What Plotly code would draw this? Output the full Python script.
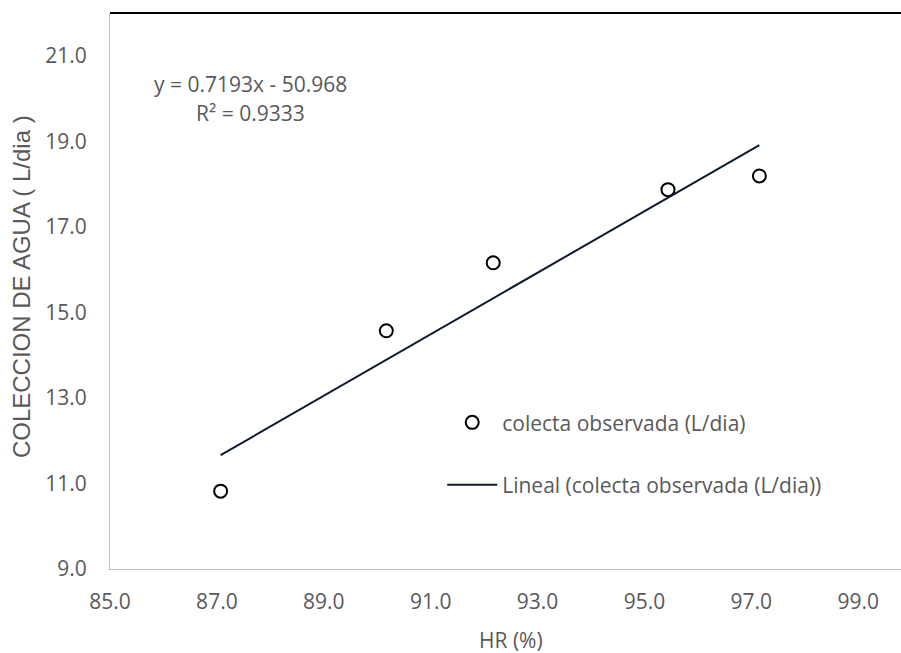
import plotly.graph_objects as go

# Data
hr_percent = [87.07, 90.17, 92.17, 95.44, 97.15]
water_l_per_day = [10.82, 14.57, 16.16, 17.87, 18.19]

# Trendline as reported on the chart
trend_slope = 0.7193
trend_intercept = -50.968
equation_text = "y = 0.7193x - 50.968"
r2_text = "R² = 0.9333"

x_trend = [min(hr_percent), max(hr_percent)]
y_trend = [trend_slope * x + trend_intercept for x in x_trend]

GRAY = "#595959"
FONT = "Open Sans"
FS = 21

fig = go.Figure()
fig.add_trace(go.Scatter(
    x=hr_percent, y=water_l_per_day, mode="markers",
    name="colecta observada (L/dia)",
    marker=dict(symbol="circle-open", size=13, color="black", line=dict(width=2)),
    legendgroup="a",
))
fig.add_trace(go.Scatter(
    x=x_trend, y=y_trend, mode="lines",
    name="Lineal (colecta observada (L/dia))",
    line=dict(color="#0d1a2e", width=2),
    legendgroup="b",
))

fig.update_layout(
    width=901, height=653,
    margin=dict(l=110, r=0, t=13, b=84),
    paper_bgcolor="white", plot_bgcolor="white",
    font=dict(family=FONT, size=FS, color=GRAY),
    showlegend=True,
    legend=dict(
        x=0.42, y=0.3, xanchor="left", yanchor="top",
        bgcolor="rgba(0,0,0,0)", font=dict(family=FONT, size=FS, color=GRAY),
        itemwidth=50, traceorder="grouped", tracegroupgap=32,
    ),
    xaxis=dict(
        range=[85, 99.8], tick0=85, dtick=2, tickformat=".1f",
        showgrid=False, zeroline=False, showline=True, linecolor="#bfbfbf", linewidth=1,
        ticks="", ticklabelstandoff=14,
        tickfont=dict(family=FONT, size=FS, color=GRAY),
    ),
    yaxis=dict(
        range=[9, 22], tick0=9, dtick=2, tickformat=".1f",
        showgrid=False, zeroline=False, showline=True, linecolor="#bfbfbf", linewidth=1,
        ticks="", ticklabelstandoff=18,
        tickfont=dict(family=FONT, size=FS, color=GRAY),
    ),
    shapes=[dict(type="line", xref="paper", yref="paper", x0=0, x1=1, y0=1, y1=1,
                 line=dict(color="black", width=2))],
    annotations=[
        dict(text=equation_text, xref="paper", yref="paper", x=0.178, y=0.872,
             showarrow=False, xanchor="center", yanchor="middle",
             font=dict(family=FONT, size=FS, color=GRAY)),
        dict(text=r2_text, xref="paper", yref="paper", x=0.178, y=0.820,
             showarrow=False, xanchor="center", yanchor="middle",
             font=dict(family=FONT, size=FS, color=GRAY)),
        dict(text="HR (%)", xref="paper", yref="paper", x=0.507, y=-0.128,
             showarrow=False, xanchor="center", yanchor="middle",
             font=dict(family=FONT, size=FS, color=GRAY)),
        dict(text="COLECCION DE AGUA ( L/dia )", xref="paper", yref="paper",
             x=-0.1125, y=0.507, textangle=-90,
             showarrow=False, xanchor="center", yanchor="middle",
             font=dict(family="Liberation Sans", size=24, color=GRAY)),
    ],
)

fig.write_html("out.html")
